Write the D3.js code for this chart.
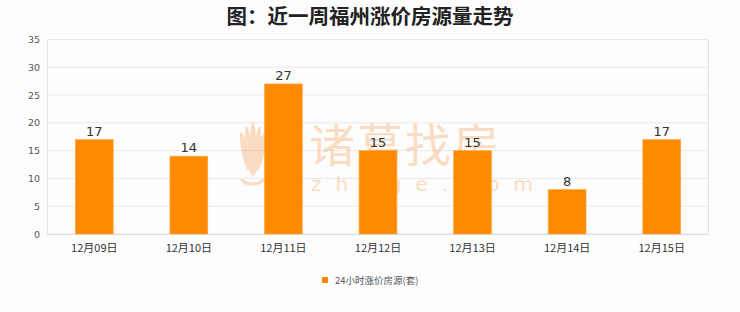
<!DOCTYPE html>
<html>
<head>
<meta charset="utf-8">
<script src="https://cdn.jsdelivr.net/npm/d3@7/dist/d3.min.js"></script>
<style>
  html, body { margin: 0; padding: 0; background: #fdfdfd; }
  svg { display: block; }
</style>
</head>
<body>
<svg id="chart" width="740" height="312"></svg>
<script>
// Data
const categories = ["12月09日", "12月10日", "12月11日", "12月12日", "12月13日", "12月14日", "12月15日"];
const values = [17, 14, 27, 15, 15, 8, 17];
const yTicks = [0, 5, 10, 15, 20, 25, 30, 35];
const seriesName = "24小时涨价房源(套)";
const titleText = "图：近一周福州涨价房源量走势";

const svg = d3.select("#chart");
const W = 740, H = 312;
const margin = { left: 47, right: 31, top: 39.5, bottom: 78 };
const plotW = W - margin.left - margin.right;
const plotH = H - margin.top - margin.bottom;
const font = "'Noto Sans CJK SC', 'Noto Sans', sans-serif";

svg.append("rect").attr("width", W).attr("height", H).attr("fill", "#fdfdfd");

// Title
svg.append("text")
  .attr("x", 370).attr("y", 24)
  .attr("text-anchor", "middle")
  .attr("font-family", font)
  .attr("font-size", 20.5)
  .attr("font-weight", "bold")
  .attr("fill", "#222")
  .text(titleText);

const x = d3.scaleBand().domain(categories).range([0, plotW]).paddingInner(0.6).paddingOuter(0.3);
const y = d3.scaleLinear().domain([0, 35]).range([plotH, 0]);

const g = svg.append("g").attr("transform", `translate(${margin.left},${margin.top})`);

// Grid lines
g.append("g").selectAll("line").data(yTicks).join("line")
  .attr("x1", 0).attr("x2", plotW)
  .attr("y1", d => y(d)).attr("y2", d => y(d))
  .attr("stroke", "#e9e9e9").attr("stroke-width", 1);

// Plot frame
g.append("line").attr("x1", 0.5).attr("x2", 0.5).attr("y1", 0).attr("y2", plotH).attr("stroke", "#e3e3e3");
g.append("line").attr("x1", plotW - 0.5).attr("x2", plotW - 0.5).attr("y1", 0).attr("y2", plotH).attr("stroke", "#e3e3e3");
g.append("line").attr("x1", 0).attr("x2", plotW).attr("y1", plotH + 0.5).attr("y2", plotH + 0.5).attr("stroke", "#dcdcdc");

// Watermark
const wm = g.append("g").attr("opacity", 0.33).attr("fill", "#f29b4a");
wm.append("text")
  .attr("x", 262).attr("y", 122)
  .attr("font-family", font).attr("font-size", 46)
  .attr("letter-spacing", 2)
  .text("诸葛找房");
wm.append("text")
  .attr("x", 264).attr("y", 151)
  .attr("font-family", "'DejaVu Sans', sans-serif").attr("font-size", 20)
  .attr("letter-spacing", 14)
  .text("zhuge.com");
// Wheat-ear logo
const logo = wm.append("g").attr("transform", "translate(206,110)");
[-14, -7, 0, 7, 14].forEach(dx => {
  logo.append("ellipse")
    .attr("cx", dx * 0.6).attr("cy", 0)
    .attr("rx", 3.2).attr("ry", 28 - Math.abs(dx) * 0.6)
    .attr("transform", `rotate(${dx * 0.8})`);
});
logo.append("path").attr("d", "M-12,30 Q0,40 14,28").attr("fill", "none").attr("stroke", "#f29b4a").attr("stroke-width", 3);

// Bars
g.append("g").selectAll("rect").data(values).join("rect")
  .attr("x", (d, i) => x(categories[i]))
  .attr("width", x.bandwidth())
  .attr("y", d => y(d))
  .attr("height", d => plotH - y(d))
  .attr("fill", "#ff8a00")
  .attr("stroke", "#ffa640").attr("stroke-width", 0.6);

// Value labels
g.append("g").selectAll("text").data(values).join("text")
  .attr("x", (d, i) => x(categories[i]) + x.bandwidth() / 2)
  .attr("y", d => y(d) - 4)
  .attr("text-anchor", "middle")
  .attr("font-family", "'DejaVu Sans', sans-serif")
  .attr("font-size", 13)
  .attr("fill", "#333")
  .text(d => d);

// Y axis labels
g.append("g").selectAll("text").data(yTicks).join("text")
  .attr("x", -7).attr("y", d => y(d) + 3.5)
  .attr("text-anchor", "end")
  .attr("font-family", "'DejaVu Sans', sans-serif")
  .attr("font-size", 9.5)
  .attr("fill", "#555")
  .text(d => d);

// X axis labels
g.append("g").selectAll("text").data(categories).join("text")
  .attr("x", d => x(d) + x.bandwidth() / 2)
  .attr("y", plotH + 18)
  .attr("text-anchor", "middle")
  .attr("font-family", font)
  .attr("font-size", 11)
  .attr("fill", "#333")
  .text(d => d);

// Legend
const lg = svg.append("g").attr("transform", "translate(322,277)");
lg.append("rect").attr("width", 6).attr("height", 6).attr("fill", "#ff8a00");
lg.append("text").attr("x", 13).attr("y", 6.5)
  .attr("font-family", font).attr("font-size", 9.5).attr("fill", "#555")
  .text(seriesName);
</script>
</body>
</html>
